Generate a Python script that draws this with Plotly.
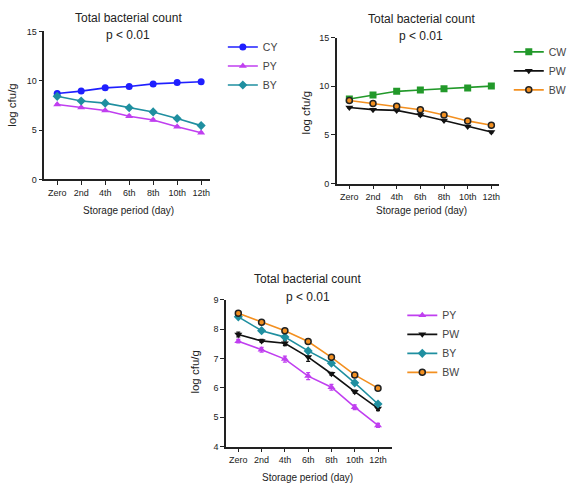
import plotly.graph_objects as go

days = ["Zero", "2nd", "4th", "6th", "8th", "10th", "12th"]

CY = [8.70, 8.95, 9.28, 9.42, 9.68, 9.82, 9.90]
PY = [7.59, 7.30, 6.98, 6.40, 6.02, 5.34, 4.72]
BY = [8.42, 7.95, 7.73, 7.26, 6.84, 6.17, 5.45]
CW = [8.70, 9.10, 9.48, 9.62, 9.75, 9.83, 10.02]
PW = [7.82, 7.60, 7.52, 7.05, 6.48, 5.87, 5.30]
BW = [8.54, 8.24, 7.95, 7.58, 7.04, 6.44, 5.99]

CY_err = [0.12, 0.10, 0.10, 0.08, 0.08, 0.08, 0.08]
PY_err = [0.06, 0.08, 0.10, 0.12, 0.10, 0.08, 0.07]
BY_err = [0.05, 0.05, 0.05, 0.05, 0.05, 0.05, 0.05]
CW_err = [0.10, 0.10, 0.08, 0.08, 0.08, 0.08, 0.08]
PW_err = [0.08, 0.05, 0.08, 0.15, 0.05, 0.05, 0.08]
BW_err = [0.05, 0.05, 0.05, 0.08, 0.05, 0.05, 0.06]

top_ticks = [0, 5, 10, 15]
bottom_ticks = [4, 5, 6, 7, 8, 9]

col = {
    "CY": "#1f1fff", "PY": "#c03ff0", "BY": "#1f8fa0",
    "CW": "#22992a", "PW": "#111111", "BW": "#f39020",
}
sym = {
    "CY": "circle", "PY": "triangle-up", "BY": "diamond",
    "CW": "square", "PW": "triangle-down", "BW": "circle",
}
data = {"CY": (CY, CY_err), "PY": (PY, PY_err), "BY": (BY, BY_err),
        "CW": (CW, CW_err), "PW": (PW, PW_err), "BW": (BW, BW_err)}

W, H = 572, 490
FONT = "Liberation Sans, Arial, sans-serif"

fig = go.Figure()

def add(name, xa, ya, legend, msize=7):
    y, e = data[name]
    marker = dict(symbol=sym[name], size=msize, color=col[name])
    if name == "BW":
        marker = dict(symbol="circle", size=6, color=col[name],
                      line=dict(color="#222222", width=1.5))
    fig.add_trace(go.Scatter(
        x=days, y=y, name=name, mode="lines+markers",
        xaxis=xa, yaxis=ya, legend=legend,
        line=dict(color=col[name], width=1.6),
        marker=marker,
        error_y=dict(type="data", array=e, color=col[name], thickness=1.2, width=2),
    ))

for n in ["CY", "PY", "BY"]:
    add(n, "x", "y", "legend")
for n in ["CW", "PW", "BW"]:
    add(n, "x2", "y2", "legend2")
for n in ["PY", "PW", "BY", "BW"]:
    add(n, "x3", "y3", "legend3")

def px(v):
    return v / W

def py(v):
    return 1 - v / H

axis_common = dict(showgrid=False, zeroline=False, showline=True, linecolor="#222222",
                   linewidth=1.5, ticks="outside", ticklen=4, tickwidth=1.2,
                   tickcolor="#222222", tickfont=dict(family=FONT, size=9, color="#222222"))

fig.update_layout(
    xaxis=dict(domain=[px(45), px(213)], anchor="y", range=[-0.535, 6.37],
               type="category", **axis_common),
    yaxis=dict(domain=[py(178), py(27)], anchor="x", range=[0, 15],
               tickvals=top_ticks, **axis_common),
    xaxis2=dict(domain=[px(341.7), px(506)], anchor="y2", range=[-0.525, 6.32],
                type="category", **axis_common),
    yaxis2=dict(domain=[py(182.3), py(33.3)], anchor="x2", range=[0, 15],
                tickvals=top_ticks, **axis_common),
    xaxis3=dict(domain=[px(229.3), px(397.3)], anchor="y3", range=[-0.525, 6.59],
                type="category", **axis_common),
    yaxis3=dict(domain=[py(450.7), py(301)], anchor="x3", range=[4, 9],
                tickvals=bottom_ticks, **axis_common),
)

leg_common = dict(font=dict(family=FONT, size=10.5, color="#444444"),
                  bgcolor="rgba(0,0,0,0)", xanchor="left", yanchor="top",
                  itemwidth=30, tracegroupgap=0)
fig.update_layout(
    legend=dict(x=px(226), y=py(28), **leg_common),
    legend2=dict(x=px(516), y=py(33), **leg_common),
    legend3=dict(x=px(408), y=py(302), **leg_common),
)

ann = []
def text(x, y, t, size, angle=0):
    ann.append(dict(x=px(x), y=py(y), xref="paper", yref="paper", text=t,
                    showarrow=False, xanchor="center", yanchor="middle",
                    textangle=angle, font=dict(family=FONT, size=size, color="#222222")))

for cx, ty, xt_y, yx, yy in [(130, 13, 210, 12, 102), (427, 14, 210, 310, 110),
                             (312, 280, 482, 198, 375)]:
    text(cx, ty, "Total bacterial count", 12)
    text(cx, ty + 18, "p &lt; 0.01", 12)
    text(cx, xt_y, "Storage period (day)", 10)
    text(yx, yy, "log cfu/g", 11.5, angle=-90)

fig.update_layout(
    width=W, height=H, margin=dict(l=0, r=0, t=0, b=0),
    paper_bgcolor="white", plot_bgcolor="white",
    annotations=ann, showlegend=True,
)

fig.write_html("out.html", config={"displayModeBar": False},
               post_script="document.body.style.margin='0';document.body.style.padding='0';")
